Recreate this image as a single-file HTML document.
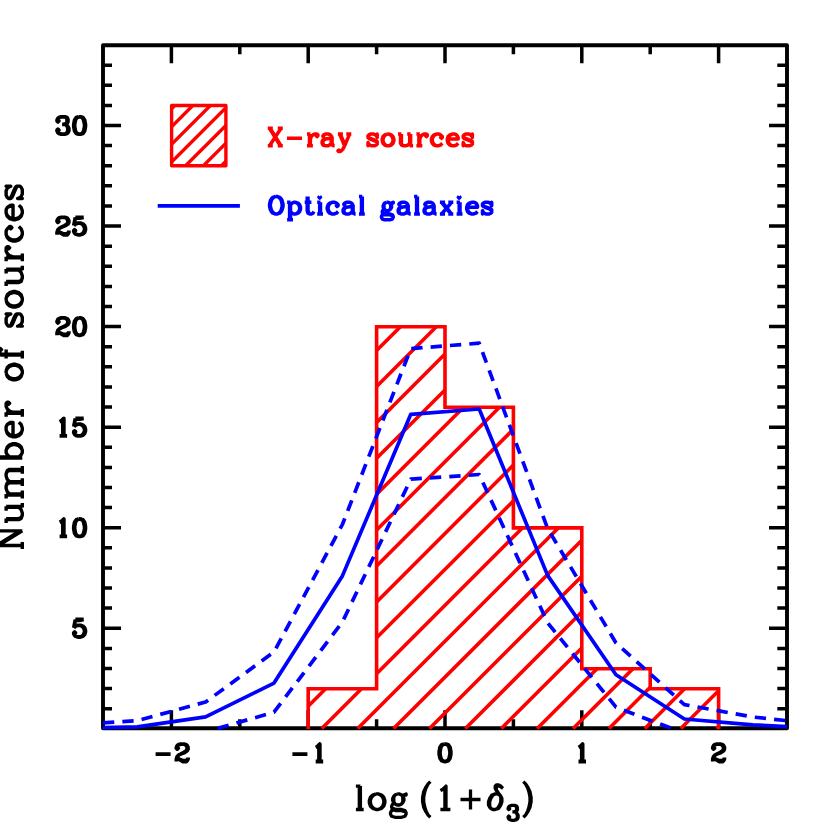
<!DOCTYPE html>
<html><head><meta charset="utf-8"><title>chart</title><style>html,body{margin:0;padding:0;background:#fff}svg{display:block}body{font-family:"Liberation Sans",sans-serif}</style></head><body>
<svg width="830" height="830" viewBox="0 0 830 830">
<rect width="830" height="830" fill="#fff"/>
<path d="M171.4 728.2V710.2M171.4 45.2V63.2M308.2 728.2V710.2M308.2 45.2V63.2M445.0 728.2V710.2M445.0 45.2V63.2M581.8 728.2V710.2M581.8 45.2V63.2M718.6 728.2V710.2M718.6 45.2V63.2M239.8 728.2V719.2M239.8 45.2V54.2M376.6 728.2V719.2M376.6 45.2V54.2M513.4 728.2V719.2M513.4 45.2V54.2M650.2 728.2V719.2M650.2 45.2V54.2M103.0 708.7H112.0M787.0 708.7H777.3M103.0 688.6H112.0M787.0 688.6H777.3M103.0 668.5H112.0M787.0 668.5H777.3M103.0 648.4H112.0M787.0 648.4H777.3M103.0 628.2H121.0M787.0 628.2H769.0M103.0 608.1H112.0M787.0 608.1H777.3M103.0 588.0H112.0M787.0 588.0H777.3M103.0 567.9H112.0M787.0 567.9H777.3M103.0 547.8H112.0M787.0 547.8H777.3M103.0 527.7H121.0M787.0 527.7H769.0M103.0 507.6H112.0M787.0 507.6H777.3M103.0 487.5H112.0M787.0 487.5H777.3M103.0 467.4H112.0M787.0 467.4H777.3M103.0 447.3H112.0M787.0 447.3H777.3M103.0 427.2H121.0M787.0 427.2H769.0M103.0 407.0H112.0M787.0 407.0H777.3M103.0 386.9H112.0M787.0 386.9H777.3M103.0 366.8H112.0M787.0 366.8H777.3M103.0 346.7H112.0M787.0 346.7H777.3M103.0 326.6H121.0M787.0 326.6H769.0M103.0 306.5H112.0M787.0 306.5H777.3M103.0 286.4H112.0M787.0 286.4H777.3M103.0 266.3H112.0M787.0 266.3H777.3M103.0 246.2H112.0M787.0 246.2H777.3M103.0 226.1H121.0M787.0 226.1H769.0M103.0 205.9H112.0M787.0 205.9H777.3M103.0 185.8H112.0M787.0 185.8H777.3M103.0 165.7H112.0M787.0 165.7H777.3M103.0 145.6H112.0M787.0 145.6H777.3M103.0 125.5H121.0M787.0 125.5H769.0M103.0 105.4H112.0M787.0 105.4H777.3M103.0 85.3H112.0M787.0 85.3H777.3M103.0 65.2H112.0M787.0 65.2H777.3" fill="none" stroke="#000" stroke-width="3.5"/>
<rect x="103.0" y="45.2" width="684.0" height="683.0" fill="none" stroke="#000" stroke-width="3.9" stroke-linejoin="round"/>
<path d="M155.6 754.1L170.6 754.1M177.2 747.4L178.1 748.2L177.2 749.1L176.4 748.2L176.4 747.4L177.2 745.7L178.1 744.9L180.6 744.1L183.9 744.1L186.4 744.9L187.2 745.7L188.0 747.4L188.0 749.1L187.2 750.7L184.7 752.4L180.6 754.1L178.9 754.9L177.2 756.6L176.4 759.1L176.4 761.5M183.9 744.1L185.5 744.9L186.4 745.7L187.2 747.4L187.2 749.1L186.4 750.7L183.9 752.4L180.6 754.1M176.4 759.9L177.2 759.1L178.9 759.1L183.0 760.7L185.5 760.7L187.2 759.9L188.0 759.1M178.9 759.1L183.0 761.5L186.4 761.5L187.2 760.7L188.0 759.1L188.0 757.4M292.4 754.1L307.4 754.1M315.7 747.4L317.4 746.6L319.8 744.1L319.8 761.5M319.0 744.9L319.0 761.5M315.7 761.5L323.2 761.5M444.2 744.1L441.7 744.9L440.0 747.4L439.2 751.6L439.2 754.1L440.0 758.2L441.7 760.7L444.2 761.5L445.8 761.5L448.3 760.7L450.0 758.2L450.8 754.1L450.8 751.6L450.0 747.4L448.3 744.9L445.8 744.1L444.2 744.1M444.2 744.1L442.5 744.9L441.7 745.7L440.8 747.4L440.0 751.6L440.0 754.1L440.8 758.2L441.7 759.9L442.5 760.7L444.2 761.5M445.8 761.5L447.5 760.7L448.3 759.9L449.2 758.2L450.0 754.1L450.0 751.6L449.2 747.4L448.3 745.7L447.5 744.9L445.8 744.1M578.5 747.4L580.1 746.6L582.6 744.1L582.6 761.5M581.8 744.9L581.8 761.5M578.5 761.5L586.0 761.5M713.6 747.4L714.4 748.2L713.6 749.1L712.8 748.2L712.8 747.4L713.6 745.7L714.4 744.9L716.9 744.1L720.3 744.1L722.8 744.9L723.6 745.7L724.4 747.4L724.4 749.1L723.6 750.7L721.1 752.4L716.9 754.1L715.3 754.9L713.6 756.6L712.8 759.1L712.8 761.5M720.3 744.1L721.9 744.9L722.8 745.7L723.6 747.4L723.6 749.1L722.8 750.7L720.3 752.4L716.9 754.1M712.8 759.9L713.6 759.1L715.3 759.1L719.4 760.7L721.9 760.7L723.6 759.9L724.4 759.1M715.3 759.1L719.4 761.5L722.8 761.5L723.6 760.7L724.4 759.1L724.4 757.4M75.4 619.5L73.8 627.8M73.8 627.8L75.4 626.2L77.9 625.3L80.4 625.3L82.9 626.2L84.6 627.8L85.4 630.3L85.4 632.0L84.6 634.5L82.9 636.2L80.4 637.0L77.9 637.0L75.4 636.2L74.6 635.3L73.8 633.7L73.8 632.8L74.6 632.0L75.4 632.8L74.6 633.7M80.4 625.3L82.1 626.2L83.7 627.8L84.6 630.3L84.6 632.0L83.7 634.5L82.1 636.2L80.4 637.0M75.4 619.5L83.7 619.5M75.4 620.3L79.6 620.3L83.7 619.5M59.6 522.3L61.3 521.5L63.8 519.0L63.8 536.4M62.9 519.8L62.9 536.4M59.6 536.4L67.1 536.4M78.7 519.0L76.3 519.8L74.6 522.3L73.8 526.5L73.8 528.9L74.6 533.1L76.3 535.6L78.7 536.4L80.4 536.4L82.9 535.6L84.6 533.1L85.4 528.9L85.4 526.5L84.6 522.3L82.9 519.8L80.4 519.0L78.7 519.0M78.7 519.0L77.1 519.8L76.3 520.6L75.4 522.3L74.6 526.5L74.6 528.9L75.4 533.1L76.3 534.8L77.1 535.6L78.7 536.4M80.4 536.4L82.1 535.6L82.9 534.8L83.7 533.1L84.6 528.9L84.6 526.5L83.7 522.3L82.9 520.6L82.1 519.8L80.4 519.0M59.6 421.7L61.3 420.9L63.8 418.4L63.8 435.9M62.9 419.2L62.9 435.9M59.6 435.9L67.1 435.9M75.4 418.4L73.8 426.7M73.8 426.7L75.4 425.1L77.9 424.2L80.4 424.2L82.9 425.1L84.6 426.7L85.4 429.2L85.4 430.9L84.6 433.4L82.9 435.1L80.4 435.9L77.9 435.9L75.4 435.1L74.6 434.2L73.8 432.6L73.8 431.7L74.6 430.9L75.4 431.7L74.6 432.6M80.4 424.2L82.1 425.1L83.7 426.7L84.6 429.2L84.6 430.9L83.7 433.4L82.1 435.1L80.4 435.9M75.4 418.4L83.7 418.4M75.4 419.2L79.6 419.2L83.7 418.4M57.9 321.2L58.8 322.0L57.9 322.9L57.1 322.0L57.1 321.2L57.9 319.5L58.8 318.7L61.3 317.9L64.6 317.9L67.1 318.7L67.9 319.5L68.8 321.2L68.8 322.9L67.9 324.5L65.4 326.2L61.3 327.8L59.6 328.7L57.9 330.3L57.1 332.8L57.1 335.3M64.6 317.9L66.3 318.7L67.1 319.5L67.9 321.2L67.9 322.9L67.1 324.5L64.6 326.2L61.3 327.8M57.1 333.7L57.9 332.8L59.6 332.8L63.8 334.5L66.3 334.5L67.9 333.7L68.8 332.8M59.6 332.8L63.8 335.3L67.1 335.3L67.9 334.5L68.8 332.8L68.8 331.2M78.7 317.9L76.3 318.7L74.6 321.2L73.8 325.4L73.8 327.8L74.6 332.0L76.3 334.5L78.7 335.3L80.4 335.3L82.9 334.5L84.6 332.0L85.4 327.8L85.4 325.4L84.6 321.2L82.9 318.7L80.4 317.9L78.7 317.9M78.7 317.9L77.1 318.7L76.3 319.5L75.4 321.2L74.6 325.4L74.6 327.8L75.4 332.0L76.3 333.7L77.1 334.5L78.7 335.3M80.4 335.3L82.1 334.5L82.9 333.7L83.7 332.0L84.6 327.8L84.6 325.4L83.7 321.2L82.9 319.5L82.1 318.7L80.4 317.9M57.9 220.6L58.8 221.5L57.9 222.3L57.1 221.5L57.1 220.6L57.9 219.0L58.8 218.1L61.3 217.3L64.6 217.3L67.1 218.1L67.9 219.0L68.8 220.6L68.8 222.3L67.9 224.0L65.4 225.6L61.3 227.3L59.6 228.1L57.9 229.8L57.1 232.3L57.1 234.8M64.6 217.3L66.3 218.1L67.1 219.0L67.9 220.6L67.9 222.3L67.1 224.0L64.6 225.6L61.3 227.3M57.1 233.1L57.9 232.3L59.6 232.3L63.8 234.0L66.3 234.0L67.9 233.1L68.8 232.3M59.6 232.3L63.8 234.8L67.1 234.8L67.9 234.0L68.8 232.3L68.8 230.6M75.4 217.3L73.8 225.6M73.8 225.6L75.4 224.0L77.9 223.1L80.4 223.1L82.9 224.0L84.6 225.6L85.4 228.1L85.4 229.8L84.6 232.3L82.9 234.0L80.4 234.8L77.9 234.8L75.4 234.0L74.6 233.1L73.8 231.5L73.8 230.6L74.6 229.8L75.4 230.6L74.6 231.5M80.4 223.1L82.1 224.0L83.7 225.6L84.6 228.1L84.6 229.8L83.7 232.3L82.1 234.0L80.4 234.8M75.4 217.3L83.7 217.3M75.4 218.1L79.6 218.1L83.7 217.3M57.9 120.1L58.8 120.9L57.9 121.8L57.1 120.9L57.1 120.1L57.9 118.4L58.8 117.6L61.3 116.8L64.6 116.8L67.1 117.6L67.9 119.3L67.9 121.8L67.1 123.4L64.6 124.3L62.1 124.3M64.6 116.8L66.3 117.6L67.1 119.3L67.1 121.8L66.3 123.4L64.6 124.3M64.6 124.3L66.3 125.1L67.9 126.7L68.8 128.4L68.8 130.9L67.9 132.6L67.1 133.4L64.6 134.2L61.3 134.2L58.8 133.4L57.9 132.6L57.1 130.9L57.1 130.1L57.9 129.2L58.8 130.1L57.9 130.9M67.1 125.9L67.9 128.4L67.9 130.9L67.1 132.6L66.3 133.4L64.6 134.2M78.7 116.8L76.3 117.6L74.6 120.1L73.8 124.3L73.8 126.7L74.6 130.9L76.3 133.4L78.7 134.2L80.4 134.2L82.9 133.4L84.6 130.9L85.4 126.7L85.4 124.3L84.6 120.1L82.9 117.6L80.4 116.8L78.7 116.8M78.7 116.8L77.1 117.6L76.3 118.4L75.4 120.1L74.6 124.3L74.6 126.7L75.4 130.9L76.3 132.6L77.1 133.4L78.7 134.2M80.4 134.2L82.1 133.4L82.9 132.6L83.7 130.9L84.6 126.7L84.6 124.3L83.7 120.1L82.9 118.4L82.1 117.6L80.4 116.8" fill="none" stroke="#000" stroke-width="3.8" stroke-linejoin="round"/>
<path d="M359.3 786.1L359.3 809.5M360.4 786.1L360.4 809.5M355.9 786.1L360.4 786.1M355.9 809.5L363.7 809.5M376.0 793.9L372.7 795.0L370.4 797.2L369.3 800.6L369.3 802.8L370.4 806.2L372.7 808.4L376.0 809.5L378.2 809.5L381.6 808.4L383.8 806.2L384.9 802.8L384.9 800.6L383.8 797.2L381.6 795.0L378.2 793.9L376.0 793.9M376.0 793.9L373.8 795.0L371.5 797.2L370.4 800.6L370.4 802.8L371.5 806.2L373.8 808.4L376.0 809.5M378.2 809.5L380.5 808.4L382.7 806.2L383.8 802.8L383.8 800.6L382.7 797.2L380.5 795.0L378.2 793.9M397.2 793.9L395.0 795.0L393.8 796.1L392.7 798.4L392.7 800.6L393.8 802.8L395.0 803.9L397.2 805.0L399.4 805.0L401.6 803.9L402.8 802.8L403.9 800.6L403.9 798.4L402.8 796.1L401.6 795.0L399.4 793.9L397.2 793.9M395.0 795.0L393.8 797.2L393.8 801.7L395.0 803.9M401.6 803.9L402.8 801.7L402.8 797.2L401.6 795.0M402.8 796.1L403.9 795.0L406.1 793.9L406.1 795.0L403.9 795.0M393.8 802.8L392.7 803.9L391.6 806.2L391.6 807.3L392.7 809.5L396.1 810.6L401.6 810.6L405.0 811.7L406.1 812.8M391.6 807.3L392.7 808.4L396.1 809.5L401.6 809.5L405.0 810.6L406.1 812.8L406.1 814.0L405.0 816.2L401.6 817.3L395.0 817.3L391.6 816.2L390.5 814.0L390.5 812.8L391.6 810.6L395.0 809.5M430.4 781.6L428.1 783.9L425.9 787.2L423.7 791.7L422.6 797.2L422.6 801.7L423.7 807.3L425.9 811.7L428.1 815.1L430.4 817.3M428.1 783.9L425.9 788.3L424.8 791.7L423.7 797.2L423.7 801.7L424.8 807.3L425.9 810.6L428.1 815.1M440.4 790.5L442.6 789.4L446.0 786.1L446.0 809.5M444.9 787.2L444.9 809.5M440.4 809.5L450.4 809.5M470.5 789.4L470.5 809.5M460.5 799.5L480.5 799.5M499.7 795.0L497.5 793.9L495.2 793.9L491.9 795.0L489.7 798.4L488.5 801.7L488.5 805.0L489.7 807.3L490.8 808.4L493.0 809.5L495.2 809.5L498.6 808.4L500.8 805.0L501.9 801.7L501.9 798.4L500.8 796.1L496.3 790.5L495.2 788.3L495.2 786.1L496.3 785.0L498.6 785.0L500.8 786.1L503.0 788.3M495.2 793.9L493.0 795.0L490.8 798.4L489.7 801.7L489.7 806.2L490.8 808.4M495.2 809.5L497.5 808.4L499.7 805.0L500.8 801.7L500.8 797.2L499.7 795.0L497.5 791.7L496.3 789.4L496.3 787.2L497.5 786.1L499.7 786.1L503.0 788.3M508.8 808.2L509.6 808.9L508.8 809.6L508.1 808.9L508.1 808.2L508.8 806.8L509.6 806.1L511.7 805.4L514.5 805.4L516.6 806.1L517.4 807.5L517.4 809.6L516.6 811.1L514.5 811.8L512.4 811.8M514.5 805.4L515.9 806.1L516.6 807.5L516.6 809.6L515.9 811.1L514.5 811.8M514.5 811.8L515.9 812.5L517.4 813.9L518.1 815.3L518.1 817.5L517.4 818.9L516.6 819.6L514.5 820.3L511.7 820.3L509.6 819.6L508.8 818.9L508.1 817.5L508.1 816.8L508.8 816.0L509.6 816.8L508.8 817.5M516.6 813.2L517.4 815.3L517.4 817.5L516.6 818.9L515.9 819.6L514.5 820.3M523.3 781.6L525.6 783.9L527.8 787.2L530.0 791.7L531.1 797.2L531.1 801.7L530.0 807.3L527.8 811.7L525.6 815.1L523.3 817.3M525.6 783.9L527.8 788.3L528.9 791.7L530.0 797.2L530.0 801.7L528.9 807.3L527.8 810.6L525.6 815.1" fill="none" stroke="#000" stroke-width="3.3" stroke-linejoin="round"/>
<path transform="translate(22.3 551.1) rotate(-90) scale(1 1.03)" d="M5.6 -23.5L5.6 0.0M6.7 -23.5L20.2 -2.2M6.7 -21.3L20.2 0.0M20.2 -23.5L20.2 0.0M2.2 -23.5L6.7 -23.5M16.8 -23.5L23.5 -23.5M2.2 0.0L9.0 0.0M31.4 -15.7L31.4 -3.4L32.5 -1.1L35.8 0.0L38.1 0.0L41.4 -1.1L43.7 -3.4M32.5 -15.7L32.5 -3.4L33.6 -1.1L35.8 0.0M43.7 -15.7L43.7 0.0M44.8 -15.7L44.8 0.0M28.0 -15.7L32.5 -15.7M40.3 -15.7L44.8 -15.7M43.7 0.0L48.2 0.0M56.0 -15.7L56.0 0.0M57.1 -15.7L57.1 0.0M57.1 -12.3L59.4 -14.6L62.7 -15.7L65.0 -15.7L68.3 -14.6L69.4 -12.3L69.4 0.0M65.0 -15.7L67.2 -14.6L68.3 -12.3L68.3 0.0M69.4 -12.3L71.7 -14.6L75.0 -15.7L77.3 -15.7L80.6 -14.6L81.8 -12.3L81.8 0.0M77.3 -15.7L79.5 -14.6L80.6 -12.3L80.6 0.0M52.6 -15.7L57.1 -15.7M52.6 0.0L60.5 0.0M65.0 0.0L72.8 0.0M77.3 0.0L85.1 0.0M93.0 -23.5L93.0 0.0M94.1 -23.5L94.1 0.0M94.1 -12.3L96.3 -14.6L98.6 -15.7L100.8 -15.7L104.2 -14.6L106.4 -12.3L107.5 -9.0L107.5 -6.7L106.4 -3.4L104.2 -1.1L100.8 0.0L98.6 0.0L96.3 -1.1L94.1 -3.4M100.8 -15.7L103.0 -14.6L105.3 -12.3L106.4 -9.0L106.4 -6.7L105.3 -3.4L103.0 -1.1L100.8 0.0M89.6 -23.5L94.1 -23.5M115.4 -9.0L128.8 -9.0L128.8 -11.2L127.7 -13.4L126.6 -14.6L124.3 -15.7L121.0 -15.7L117.6 -14.6L115.4 -12.3L114.2 -9.0L114.2 -6.7L115.4 -3.4L117.6 -1.1L121.0 0.0L123.2 0.0L126.6 -1.1L128.8 -3.4M127.7 -9.0L127.7 -12.3L126.6 -14.6M121.0 -15.7L118.7 -14.6L116.5 -12.3L115.4 -9.0L115.4 -6.7L116.5 -3.4L118.7 -1.1L121.0 0.0M137.8 -15.7L137.8 0.0M138.9 -15.7L138.9 0.0M138.9 -9.0L140.0 -12.3L142.2 -14.6L144.5 -15.7L147.8 -15.7L149.0 -14.6L149.0 -13.4L147.8 -12.3L146.7 -13.4L147.8 -14.6M134.4 -15.7L138.9 -15.7M134.4 0.0L142.2 0.0M178.0 -15.7L174.6 -14.6L172.4 -12.3L171.2 -9.0L171.2 -6.7L172.4 -3.4L174.6 -1.1L178.0 0.0L180.2 0.0L183.6 -1.1L185.8 -3.4L186.9 -6.7L186.9 -9.0L185.8 -12.3L183.6 -14.6L180.2 -15.7L178.0 -15.7M178.0 -15.7L175.7 -14.6L173.5 -12.3L172.4 -9.0L172.4 -6.7L173.5 -3.4L175.7 -1.1L178.0 0.0M180.2 0.0L182.4 -1.1L184.7 -3.4L185.8 -6.7L185.8 -9.0L184.7 -12.3L182.4 -14.6L180.2 -15.7M201.5 -22.4L200.4 -21.3L201.5 -20.2L202.6 -21.3L202.6 -22.4L201.5 -23.5L199.2 -23.5L197.0 -22.4L195.9 -20.2L195.9 0.0M199.2 -23.5L198.1 -22.4L197.0 -20.2L197.0 0.0M192.5 -15.7L201.5 -15.7M192.5 0.0L200.4 0.0M236.1 -13.4L237.2 -15.7L237.2 -11.2L236.1 -13.4L235.0 -14.6L232.7 -15.7L228.3 -15.7L226.0 -14.6L224.9 -13.4L224.9 -11.2L226.0 -10.1L228.3 -9.0L233.9 -6.7L236.1 -5.6L237.2 -4.5M224.9 -12.3L226.0 -11.2L228.3 -10.1L233.9 -7.8L236.1 -6.7L237.2 -5.6L237.2 -2.2L236.1 -1.1L233.9 0.0L229.4 0.0L227.1 -1.1L226.0 -2.2L224.9 -4.5L224.9 0.0L226.0 -2.2M250.7 -15.7L247.3 -14.6L245.1 -12.3L243.9 -9.0L243.9 -6.7L245.1 -3.4L247.3 -1.1L250.7 0.0L252.9 0.0L256.3 -1.1L258.5 -3.4L259.6 -6.7L259.6 -9.0L258.5 -12.3L256.3 -14.6L252.9 -15.7L250.7 -15.7M250.7 -15.7L248.4 -14.6L246.2 -12.3L245.1 -9.0L245.1 -6.7L246.2 -3.4L248.4 -1.1L250.7 0.0M252.9 0.0L255.1 -1.1L257.4 -3.4L258.5 -6.7L258.5 -9.0L257.4 -12.3L255.1 -14.6L252.9 -15.7M268.6 -15.7L268.6 -3.4L269.7 -1.1L273.1 0.0L275.3 0.0L278.7 -1.1L280.9 -3.4M269.7 -15.7L269.7 -3.4L270.8 -1.1L273.1 0.0M280.9 -15.7L280.9 0.0M282.0 -15.7L282.0 0.0M265.2 -15.7L269.7 -15.7M277.5 -15.7L282.0 -15.7M280.9 0.0L285.4 0.0M293.2 -15.7L293.2 0.0M294.3 -15.7L294.3 0.0M294.3 -9.0L295.5 -12.3L297.7 -14.6L299.9 -15.7L303.3 -15.7L304.4 -14.6L304.4 -13.4L303.3 -12.3L302.2 -13.4L303.3 -14.6M289.9 -15.7L294.3 -15.7M289.9 0.0L297.7 0.0M323.5 -12.3L322.3 -11.2L323.5 -10.1L324.6 -11.2L324.6 -12.3L322.3 -14.6L320.1 -15.7L316.7 -15.7L313.4 -14.6L311.1 -12.3L310.0 -9.0L310.0 -6.7L311.1 -3.4L313.4 -1.1L316.7 0.0L319.0 0.0L322.3 -1.1L324.6 -3.4M316.7 -15.7L314.5 -14.6L312.3 -12.3L311.1 -9.0L311.1 -6.7L312.3 -3.4L314.5 -1.1L316.7 0.0M332.4 -9.0L345.9 -9.0L345.9 -11.2L344.7 -13.4L343.6 -14.6L341.4 -15.7L338.0 -15.7L334.7 -14.6L332.4 -12.3L331.3 -9.0L331.3 -6.7L332.4 -3.4L334.7 -1.1L338.0 0.0L340.3 0.0L343.6 -1.1L345.9 -3.4M344.7 -9.0L344.7 -12.3L343.6 -14.6M338.0 -15.7L335.8 -14.6L333.5 -12.3L332.4 -9.0L332.4 -6.7L333.5 -3.4L335.8 -1.1L338.0 0.0M363.8 -13.4L364.9 -15.7L364.9 -11.2L363.8 -13.4L362.7 -14.6L360.4 -15.7L355.9 -15.7L353.7 -14.6L352.6 -13.4L352.6 -11.2L353.7 -10.1L355.9 -9.0L361.5 -6.7L363.8 -5.6L364.9 -4.5M352.6 -12.3L353.7 -11.2L355.9 -10.1L361.5 -7.8L363.8 -6.7L364.9 -5.6L364.9 -2.2L363.8 -1.1L361.5 0.0L357.1 0.0L354.8 -1.1L353.7 -2.2L352.6 -4.5L352.6 0.0L353.7 -2.2" fill="none" stroke="#000" stroke-width="3.3" stroke-linejoin="round"/>
<path d="M376.6 350.6L400.4 326.8M376.6 386.5L436.3 326.8M376.6 422.4L445.0 354.0M376.6 458.3L445.0 389.9M376.6 494.2L463.6 407.2M376.6 530.1L499.5 407.2M376.6 566.0L513.4 429.2M376.6 601.9L513.4 465.1M308.2 706.2L325.6 688.8M376.6 637.8L513.4 501.0M321.8 728.5L361.5 688.8M376.6 673.7L522.4 527.9M357.7 728.5L558.3 527.9M393.6 728.5L581.8 540.3M429.5 728.5L581.8 576.2M465.4 728.5L581.8 612.1M501.3 728.5L581.8 648.0M537.2 728.5L597.0 668.7M573.1 728.5L632.9 668.7M609.0 728.5L650.2 687.3M644.9 728.5L684.6 688.8M680.8 728.5L718.6 690.7M716.7 728.5L718.6 726.6" fill="none" stroke="#f00" stroke-width="3.6"/>
<polyline points="308.2,728.9 308.2,688.8 376.6,688.8 376.6,326.8 445.0,326.8 445.0,407.2 513.4,407.2 513.4,527.9 581.8,527.9 581.8,668.7 650.2,668.7 650.2,688.8 718.6,688.8 718.6,728.9" fill="none" stroke="#f00" stroke-width="3.6" stroke-linejoin="miter"/>
<clipPath id="lc"><rect x="171.6" y="105.5" width="54.3" height="60.3"/></clipPath>
<path clip-path="url(#lc)" d="M80.3 200.0L190.3 90.0M98.3 200.0L208.3 90.0M115.9 200.0L225.9 90.0M133.6 200.0L243.6 90.0M151.3 200.0L261.3 90.0M169.1 200.0L279.1 90.0M187.1 200.0L297.1 90.0" fill="none" stroke="#f00" stroke-width="3.4"/>
<rect x="171.6" y="105.5" width="54.3" height="60.3" fill="none" stroke="#f00" stroke-width="3.4" stroke-linejoin="round"/>
<path d="M269.5 128.3L280.3 145.8M270.3 128.3L281.1 145.8M281.1 128.3L269.5 145.8M267.8 128.3L272.8 128.3M277.8 128.3L282.8 128.3M267.8 145.8L272.8 145.8M277.8 145.8L282.8 145.8M287.0 138.3L302.0 138.3M309.5 134.1L309.5 145.8M310.4 134.1L310.4 145.8M310.4 139.1L311.2 136.6L312.9 134.9L314.5 134.1L317.0 134.1L317.9 134.9L317.9 135.8L317.0 136.6L316.2 135.8L317.0 134.9M307.0 134.1L310.4 134.1M307.0 145.8L312.9 145.8M323.7 135.8L323.7 136.6L322.9 136.6L322.9 135.8L323.7 134.9L325.4 134.1L328.7 134.1L330.4 134.9L331.2 135.8L332.1 137.5L332.1 143.3L332.9 145.0L333.7 145.8M331.2 135.8L331.2 143.3L332.1 145.0L333.7 145.8L334.6 145.8M331.2 137.5L330.4 138.3L325.4 139.1L322.9 140.0L322.1 141.6L322.1 143.3L322.9 145.0L325.4 145.8L327.9 145.8L329.6 145.0L331.2 143.3M325.4 139.1L323.7 140.0L322.9 141.6L322.9 143.3L323.7 145.0L325.4 145.8M339.6 134.1L344.6 145.8M340.4 134.1L344.6 144.1M349.6 134.1L344.6 145.8L342.9 149.1L341.3 150.8L339.6 151.6L338.8 151.6L337.9 150.8L338.8 150.0L339.6 150.8M337.9 134.1L342.9 134.1M346.3 134.1L351.3 134.1M376.3 135.8L377.2 134.1L377.2 137.5L376.3 135.8L375.5 134.9L373.8 134.1L370.5 134.1L368.8 134.9L368.0 135.8L368.0 137.5L368.8 138.3L370.5 139.1L374.7 140.8L376.3 141.6L377.2 142.5M368.0 136.6L368.8 137.5L370.5 138.3L374.7 140.0L376.3 140.8L377.2 141.6L377.2 144.1L376.3 145.0L374.7 145.8L371.3 145.8L369.7 145.0L368.8 144.1L368.0 142.5L368.0 145.8L368.8 144.1M387.2 134.1L384.7 134.9L383.0 136.6L382.2 139.1L382.2 140.8L383.0 143.3L384.7 145.0L387.2 145.8L388.9 145.8L391.4 145.0L393.0 143.3L393.9 140.8L393.9 139.1L393.0 136.6L391.4 134.9L388.9 134.1L387.2 134.1M387.2 134.1L385.5 134.9L383.8 136.6L383.0 139.1L383.0 140.8L383.8 143.3L385.5 145.0L387.2 145.8M388.9 145.8L390.5 145.0L392.2 143.3L393.0 140.8L393.0 139.1L392.2 136.6L390.5 134.9L388.9 134.1M400.5 134.1L400.5 143.3L401.4 145.0L403.9 145.8L405.6 145.8L408.1 145.0L409.7 143.3M401.4 134.1L401.4 143.3L402.2 145.0L403.9 145.8M409.7 134.1L409.7 145.8M410.6 134.1L410.6 145.8M398.0 134.1L401.4 134.1M407.2 134.1L410.6 134.1M409.7 145.8L413.1 145.8M418.9 134.1L418.9 145.8M419.8 134.1L419.8 145.8M419.8 139.1L420.6 136.6L422.3 134.9L423.9 134.1L426.4 134.1L427.3 134.9L427.3 135.8L426.4 136.6L425.6 135.8L426.4 134.9M416.4 134.1L419.8 134.1M416.4 145.8L422.3 145.8M441.5 136.6L440.6 137.5L441.5 138.3L442.3 137.5L442.3 136.6L440.6 134.9L439.0 134.1L436.5 134.1L433.9 134.9L432.3 136.6L431.4 139.1L431.4 140.8L432.3 143.3L433.9 145.0L436.5 145.8L438.1 145.8L440.6 145.0L442.3 143.3M436.5 134.1L434.8 134.9L433.1 136.6L432.3 139.1L432.3 140.8L433.1 143.3L434.8 145.0L436.5 145.8M448.1 139.1L458.2 139.1L458.2 137.5L457.3 135.8L456.5 134.9L454.8 134.1L452.3 134.1L449.8 134.9L448.1 136.6L447.3 139.1L447.3 140.8L448.1 143.3L449.8 145.0L452.3 145.8L454.0 145.8L456.5 145.0L458.2 143.3M457.3 139.1L457.3 136.6L456.5 134.9M452.3 134.1L450.6 134.9L449.0 136.6L448.1 139.1L448.1 140.8L449.0 143.3L450.6 145.0L452.3 145.8M471.5 135.8L472.4 134.1L472.4 137.5L471.5 135.8L470.7 134.9L469.0 134.1L465.7 134.1L464.0 134.9L463.2 135.8L463.2 137.5L464.0 138.3L465.7 139.1L469.9 140.8L471.5 141.6L472.4 142.5M463.2 136.6L464.0 137.5L465.7 138.3L469.9 140.0L471.5 140.8L472.4 141.6L472.4 144.1L471.5 145.0L469.9 145.8L466.5 145.8L464.8 145.0L464.0 144.1L463.2 142.5L463.2 145.8L464.0 144.1" fill="none" stroke="#f00" stroke-width="3.5" stroke-linejoin="round"/>
<path d="M275.5 196.5L272.9 197.3L271.3 199.0L270.4 200.6L269.6 204.0L269.6 206.5L270.4 209.8L271.3 211.5L272.9 213.2L275.5 214.0L277.1 214.0L279.6 213.2L281.3 211.5L282.1 209.8L283.0 206.5L283.0 204.0L282.1 200.6L281.3 199.0L279.6 197.3L277.1 196.5L275.5 196.5M275.5 196.5L273.8 197.3L272.1 199.0L271.3 200.6L270.4 204.0L270.4 206.5L271.3 209.8L272.1 211.5L273.8 213.2L275.5 214.0M277.1 214.0L278.8 213.2L280.5 211.5L281.3 209.8L282.1 206.5L282.1 204.0L281.3 200.6L280.5 199.0L278.8 197.3L277.1 196.5M289.6 202.3L289.6 219.8M290.5 202.3L290.5 219.8M290.5 204.8L292.2 203.1L293.8 202.3L295.5 202.3L298.0 203.1L299.7 204.8L300.5 207.3L300.5 209.0L299.7 211.5L298.0 213.2L295.5 214.0L293.8 214.0L292.2 213.2L290.5 211.5M295.5 202.3L297.2 203.1L298.8 204.8L299.7 207.3L299.7 209.0L298.8 211.5L297.2 213.2L295.5 214.0M287.1 202.3L290.5 202.3M287.1 219.8L293.0 219.8M307.2 196.5L307.2 210.7L308.0 213.2L309.7 214.0L311.4 214.0L313.0 213.2L313.9 211.5M308.0 196.5L308.0 210.7L308.9 213.2L309.7 214.0M304.7 202.3L311.4 202.3M319.7 196.5L318.9 197.3L319.7 198.1L320.5 197.3L319.7 196.5M319.7 202.3L319.7 214.0M320.5 202.3L320.5 214.0M317.2 202.3L320.5 202.3M317.2 214.0L323.0 214.0M337.2 204.8L336.4 205.7L337.2 206.5L338.1 205.7L338.1 204.8L336.4 203.1L334.7 202.3L332.2 202.3L329.7 203.1L328.1 204.8L327.2 207.3L327.2 209.0L328.1 211.5L329.7 213.2L332.2 214.0L333.9 214.0L336.4 213.2L338.1 211.5M332.2 202.3L330.6 203.1L328.9 204.8L328.1 207.3L328.1 209.0L328.9 211.5L330.6 213.2L332.2 214.0M344.8 204.0L344.8 204.8L343.9 204.8L343.9 204.0L344.8 203.1L346.4 202.3L349.8 202.3L351.4 203.1L352.3 204.0L353.1 205.7L353.1 211.5L353.9 213.2L354.8 214.0M352.3 204.0L352.3 211.5L353.1 213.2L354.8 214.0L355.6 214.0M352.3 205.7L351.4 206.5L346.4 207.3L343.9 208.2L343.1 209.8L343.1 211.5L343.9 213.2L346.4 214.0L348.9 214.0L350.6 213.2L352.3 211.5M346.4 207.3L344.8 208.2L343.9 209.8L343.9 211.5L344.8 213.2L346.4 214.0M361.5 196.5L361.5 214.0M362.3 196.5L362.3 214.0M359.0 196.5L362.3 196.5M359.0 214.0L364.8 214.0M386.5 202.3L384.8 203.1L384.0 204.0L383.2 205.7L383.2 207.3L384.0 209.0L384.8 209.8L386.5 210.7L388.2 210.7L389.8 209.8L390.7 209.0L391.5 207.3L391.5 205.7L390.7 204.0L389.8 203.1L388.2 202.3L386.5 202.3M384.8 203.1L384.0 204.8L384.0 208.2L384.8 209.8M389.8 209.8L390.7 208.2L390.7 204.8L389.8 203.1M390.7 204.0L391.5 203.1L393.2 202.3L393.2 203.1L391.5 203.1M384.0 209.0L383.2 209.8L382.3 211.5L382.3 212.3L383.2 214.0L385.7 214.8L389.8 214.8L392.4 215.7L393.2 216.5M382.3 212.3L383.2 213.2L385.7 214.0L389.8 214.0L392.4 214.8L393.2 216.5L393.2 217.3L392.4 219.0L389.8 219.8L384.8 219.8L382.3 219.0L381.5 217.3L381.5 216.5L382.3 214.8L384.8 214.0M399.9 204.0L399.9 204.8L399.0 204.8L399.0 204.0L399.9 203.1L401.5 202.3L404.9 202.3L406.5 203.1L407.4 204.0L408.2 205.7L408.2 211.5L409.1 213.2L409.9 214.0M407.4 204.0L407.4 211.5L408.2 213.2L409.9 214.0L410.7 214.0M407.4 205.7L406.5 206.5L401.5 207.3L399.0 208.2L398.2 209.8L398.2 211.5L399.0 213.2L401.5 214.0L404.0 214.0L405.7 213.2L407.4 211.5M401.5 207.3L399.9 208.2L399.0 209.8L399.0 211.5L399.9 213.2L401.5 214.0M416.6 196.5L416.6 214.0M417.4 196.5L417.4 214.0M414.1 196.5L417.4 196.5M414.1 214.0L419.9 214.0M425.8 204.0L425.8 204.8L424.9 204.8L424.9 204.0L425.8 203.1L427.4 202.3L430.8 202.3L432.4 203.1L433.3 204.0L434.1 205.7L434.1 211.5L434.9 213.2L435.8 214.0M433.3 204.0L433.3 211.5L434.1 213.2L435.8 214.0L436.6 214.0M433.3 205.7L432.4 206.5L427.4 207.3L424.9 208.2L424.1 209.8L424.1 211.5L424.9 213.2L427.4 214.0L429.9 214.0L431.6 213.2L433.3 211.5M427.4 207.3L425.8 208.2L424.9 209.8L424.9 211.5L425.8 213.2L427.4 214.0M441.6 202.3L450.8 214.0M442.5 202.3L451.6 214.0M451.6 202.3L441.6 214.0M439.9 202.3L445.0 202.3M448.3 202.3L453.3 202.3M439.9 214.0L445.0 214.0M448.3 214.0L453.3 214.0M459.2 196.5L458.3 197.3L459.2 198.1L460.0 197.3L459.2 196.5M459.2 202.3L459.2 214.0M460.0 202.3L460.0 214.0M456.6 202.3L460.0 202.3M456.6 214.0L462.5 214.0M467.5 207.3L477.5 207.3L477.5 205.7L476.7 204.0L475.9 203.1L474.2 202.3L471.7 202.3L469.2 203.1L467.5 204.8L466.7 207.3L466.7 209.0L467.5 211.5L469.2 213.2L471.7 214.0L473.3 214.0L475.9 213.2L477.5 211.5M476.7 207.3L476.7 204.8L475.9 203.1M471.7 202.3L470.0 203.1L468.3 204.8L467.5 207.3L467.5 209.0L468.3 211.5L470.0 213.2L471.7 214.0M490.9 204.0L491.7 202.3L491.7 205.7L490.9 204.0L490.0 203.1L488.4 202.3L485.0 202.3L483.4 203.1L482.5 204.0L482.5 205.7L483.4 206.5L485.0 207.3L489.2 209.0L490.9 209.8L491.7 210.7M482.5 204.8L483.4 205.7L485.0 206.5L489.2 208.2L490.9 209.0L491.7 209.8L491.7 212.3L490.9 213.2L489.2 214.0L485.9 214.0L484.2 213.2L483.4 212.3L482.5 210.7L482.5 214.0L483.4 212.3" fill="none" stroke="#00f" stroke-width="3.5" stroke-linejoin="round"/>
<path d="M157.7 205.9H239.9" stroke="#00f" stroke-width="3.6" fill="none"/>
<g fill="none" stroke="#00f" stroke-width="3.7" stroke-linejoin="round">
<polyline points="103.0,722.9 137.2,720.7 205.6,702.0 274.0,652.0 342.4,524.5 410.8,348.6 479.2,343.2 547.6,528.5 616.0,643.0 684.4,704.6 752.8,717.0 787.0,720.7" stroke-dasharray="11.3 8.1"/>
<polyline points="217.8,728.4 274.0,712.2 342.4,622.0 410.8,479.2 479.2,474.5 547.6,622.7 616.0,707.2 671.5,728.4" stroke-dasharray="11.3 8.1"/>
<polyline points="103.0,727.7 137.2,726.8 205.6,716.8 274.0,683.1 342.4,575.9 410.8,414.3 479.2,409.0 547.6,575.4 616.0,674.8 684.4,719.0 752.8,724.9 787.0,726.6"/>
</g>
</svg>
</body></html>
